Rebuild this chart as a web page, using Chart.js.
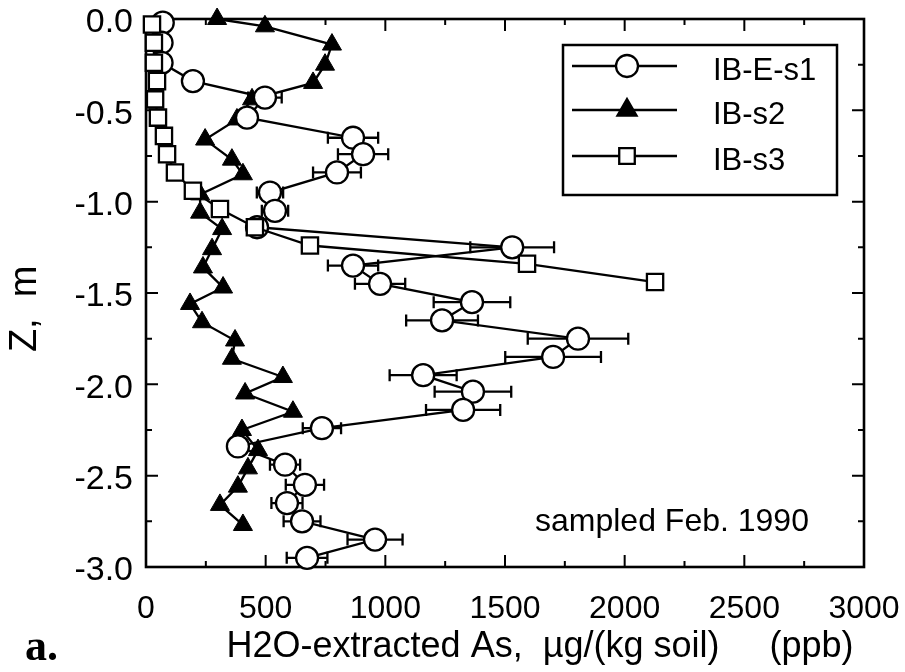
<!DOCTYPE html>
<html><head><meta charset="utf-8">
<script src="https://cdn.jsdelivr.net/npm/chart.js@4.4.1/dist/chart.umd.min.js"></script>
<style>html,body{margin:0;padding:0;background:#fff;}#wrap{width:905px;height:672px;position:relative;}</style>
</head><body><div id="wrap"><canvas id="c" width="905" height="672"></canvas></div>
<script>
// ---- data ----
const seriesLabels = ['IB-E-s1', 'IB-s2', 'IB-s3'];
const depthS1 = [-0.02,-0.13,-0.24,-0.34,-0.43,-0.54,-0.65,-0.74,-0.84,-0.95,-1.05,-1.14,-1.25,-1.35,-1.45,-1.55,-1.65,-1.75,-1.85,-1.95,-2.04,-2.14,-2.24,-2.34,-2.44,-2.55,-2.65,-2.75,-2.85,-2.95];
const asS1    = [70,65,65,196,497,422,865,907,798,518,539,464,1530,865,978,1362,1237,1805,1701,1158,1366,1325,735,384,581,664,589,652,957,673];
const errS1   = [0,0,0,0,70,30,105,105,100,55,55,30,175,105,105,160,150,210,200,140,160,155,80,0,63,80,65,77,115,85];
const depthS2 = [0.0,-0.04,-0.14,-0.25,-0.35,-0.44,-0.55,-0.66,-0.77,-0.85,-0.96,-1.06,-1.15,-1.26,-1.36,-1.47,-1.56,-1.66,-1.76,-1.86,-1.96,-2.05,-2.15,-2.25,-2.36,-2.46,-2.56,-2.66,-2.77];
const asS2    = [297,497,777,748,698,443,380,247,359,405,226,226,318,276,238,322,184,234,372,359,572,414,614,401,468,426,384,309,405];
const depthS3 = [-0.03,-0.13,-0.24,-0.34,-0.44,-0.54,-0.64,-0.74,-0.84,-0.94,-1.04,-1.14,-1.24,-1.34,-1.44];
const asS3    = [25,33,33,46,38,50,75,88,121,196,309,455,685,1592,2127];
const xRange = [0, 3000];
const yRange = [-3.0, 0.0];
const xTitle = '       H2O-extracted As,  \u00b5g/(kg soil)     (ppb)';
const yTitle = 'Z,  m   ';
const noteText = 'sampled Feb. 1990';
const panelLabel = 'a.';

const pts = (xs, ys) => xs.map((v, i) => ({x: v, y: ys[i]}));

function drawMarker(ctx, style, x, y, r) {
  ctx.beginPath();
  if (style === 'circle') {
    ctx.arc(x, y, r, 0, Math.PI * 2);
    ctx.fillStyle = '#fff'; ctx.fill(); ctx.stroke();
  } else if (style === 'triangle') {
    ctx.moveTo(x, y - r);
    ctx.lineTo(x + r * 0.866, y + r * 0.5);
    ctx.lineTo(x - r * 0.866, y + r * 0.5);
    ctx.closePath();
    ctx.fillStyle = '#000'; ctx.fill(); ctx.stroke();
  } else {
    const s = r * Math.SQRT1_2;
    ctx.rect(x - s, y - s, 2 * s, 2 * s);
    ctx.fillStyle = '#fff'; ctx.fill(); ctx.stroke();
  }
}

const decor = {
  id: 'decor',
  beforeDatasetsDraw(chart) {
    const {ctx, chartArea: a} = chart;
    const xs = chart.scales.x, ys = chart.scales.y;
    ctx.save();
    ctx.strokeStyle = '#000';
    ctx.lineWidth = 2;
    for (let v = xRange[0]; v <= xRange[1] + 1e-9; v += 250) {
      const px = xs.getPixelForValue(v);
      const len = (Math.round(v) % 500 === 0) ? 12 : 6;
      ctx.beginPath();
      ctx.moveTo(px, a.bottom); ctx.lineTo(px, a.bottom - len);
      ctx.moveTo(px, a.top); ctx.lineTo(px, a.top + len);
      ctx.stroke();
    }
    for (let k = 0; k <= 12; k++) {
      const v = yRange[0] + k * 0.25;
      const py = ys.getPixelForValue(v);
      const len = (k % 2 === 0) ? 12 : 6;
      ctx.beginPath();
      ctx.moveTo(a.left, py); ctx.lineTo(a.left + len, py);
      ctx.moveTo(a.right, py); ctx.lineTo(a.right - len, py);
      ctx.stroke();
    }
    ctx.lineWidth = 2.6;
    ctx.strokeRect(a.left, a.top, a.right - a.left, a.bottom - a.top);
    ctx.lineWidth = 2.3;
    asS1.forEach((v, i) => {
      const e = errS1[i];
      if (!e) return;
      const y = ys.getPixelForValue(depthS1[i]);
      const x1 = xs.getPixelForValue(v - e), x2 = xs.getPixelForValue(v + e);
      ctx.beginPath();
      ctx.moveTo(x1, y); ctx.lineTo(x2, y);
      ctx.moveTo(x1, y - 6); ctx.lineTo(x1, y + 6);
      ctx.moveTo(x2, y - 6); ctx.lineTo(x2, y + 6);
      ctx.stroke();
    });
    ctx.restore();
  },
  afterDraw(chart) {
    const {ctx} = chart;
    ctx.save();
    ctx.strokeStyle = '#000';
    ctx.lineWidth = 2.5;
    ctx.strokeRect(563, 45, 274, 150);
    const styles = ['circle', 'triangle', 'rect'];
    const rows = [66, 110, 156];
    chart.data.datasets.forEach((ds, i) => {
      const y = rows[i];
      ctx.lineWidth = 2.3;
      ctx.beginPath(); ctx.moveTo(572, y); ctx.lineTo(677, y); ctx.stroke();
      drawMarker(ctx, styles[i], 627, y, 11);
      ctx.fillStyle = '#000';
      ctx.font = '31px "Liberation Sans", Arial, sans-serif';
      ctx.textBaseline = 'middle';
      ctx.textAlign = 'left';
      ctx.fillText(ds.label, 713, y + 5);
    });
    ctx.fillStyle = '#000';
    ctx.font = '32px "Liberation Sans", Arial, sans-serif';
    ctx.textBaseline = 'alphabetic';
    ctx.fillText(noteText, 535, 531);
    ctx.font = 'bold 44px "Liberation Serif", "DejaVu Serif", serif';
    ctx.fillText(panelLabel, 25, 660);
    ctx.restore();
  }
};

new Chart(document.getElementById('c'), {
  type: 'scatter',
  data: {
    datasets: [
      { label: seriesLabels[0], data: pts(asS1, depthS1), order: 2, showLine: true,
        borderColor: '#000', borderWidth: 2.3, pointStyle: 'circle', pointRadius: 11,
        pointBackgroundColor: '#fff', pointBorderColor: '#000', pointBorderWidth: 2.3, clip: false },
      { label: seriesLabels[1], data: pts(asS2, depthS2), order: 3, showLine: true,
        borderColor: '#000', borderWidth: 2.3, pointStyle: 'triangle', pointRadius: 11,
        pointBackgroundColor: '#000', pointBorderColor: '#000', pointBorderWidth: 1, clip: false },
      { label: seriesLabels[2], data: pts(asS3, depthS3), order: 1, showLine: true,
        borderColor: '#000', borderWidth: 2.3, pointStyle: 'rect', pointRadius: 11.5,
        pointBackgroundColor: '#fff', pointBorderColor: '#000', pointBorderWidth: 2.3, clip: false }
    ]
  },
  options: {
    responsive: false,
    animation: false,
    events: [],
    layout: { padding: { left: 0, top: 19, right: 41, bottom: 0 } },
    plugins: { legend: { display: false }, tooltip: { enabled: false } },
    scales: {
      x: {
        type: 'linear', min: xRange[0], max: xRange[1],
        grid: { display: false, drawTicks: false },
        border: { display: false },
        ticks: { stepSize: 500, color: '#000', padding: 23, maxRotation: 0,
          callback: v => String(v),
          font: { family: '"Liberation Sans", Arial, sans-serif', size: 32 } },
        title: { display: true, text: xTitle, color: '#000', padding: { top: 0, bottom: 3 },
          font: { family: '"Liberation Sans", Arial, sans-serif', size: 36 } },
        afterFit(s) { s.height = 105; s.paddingLeft = 0; s.paddingRight = 0; }
      },
      y: {
        type: 'linear', min: yRange[0], max: yRange[1],
        grid: { display: false, drawTicks: false },
        border: { display: false },
        ticks: { stepSize: 0.5, color: '#000', padding: 13, labelOffset: 4,
          callback: v => Number(v).toFixed(1),
          font: { family: '"Liberation Sans", Arial, sans-serif', size: 34 } },
        title: { display: true, text: yTitle, color: '#000', padding: { top: 3, bottom: 0 },
          font: { family: '"Liberation Sans", Arial, sans-serif', size: 38 } },
        afterFit(s) { s.width = 146; s.paddingTop = 0; s.paddingBottom = 0; }
      }
    }
  },
  plugins: [decor]
});
</script></body></html>
